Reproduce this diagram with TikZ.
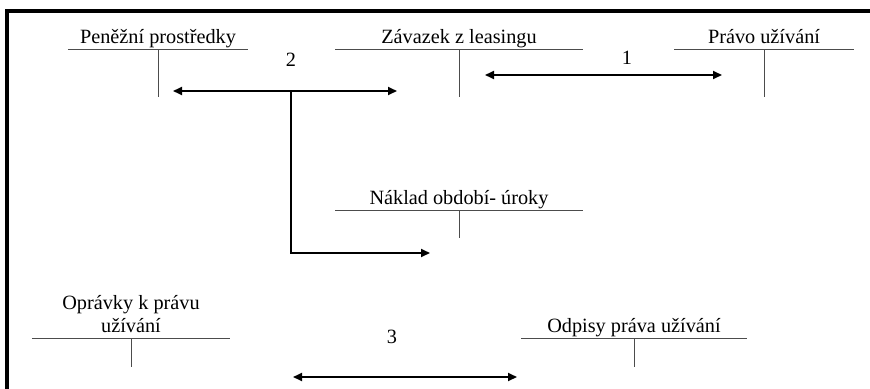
\documentclass[tikz,border=0pt]{standalone}
\usepackage{fontspec}
\setmainfont{Liberation Serif}
\usepackage{xcolor}
\usepackage{tikz}
\usetikzlibrary{positioning,arrows.meta,calc}
\tikzset{
  acct/.style={anchor=south, inner sep=0pt, text depth=0.17cm, align=center,
               font=\fontsize{17.3pt}{19.5pt}\selectfont},
  tline/.style={line width=0.75pt, black!70},
  num/.style={inner sep=0pt, font=\fontsize{17.3pt}{19.5pt}\selectfont},
  flow/.style={{Triangle[length=0.27cm,width=0.24cm]}-{Triangle[length=0.27cm,width=0.24cm]},
               line width=1.6pt},
  oneway/.style={-{Triangle[length=0.27cm,width=0.24cm]}, line width=1.6pt},
  branch/.style={line width=1.1pt},
  frame/.style={line width=2.6pt, line join=miter}
}

\begin{document}
\begin{tikzpicture}[x=0.03cm, y=-0.03cm]
\useasboundingbox (0,0) rectangle (870,388);
\draw[frame] (7,392) -- (7,11) -- (874,11);
\node[acct, minimum width=5.4cm] (pen) at (158,49) {Peněžní prostředky};
\node[acct, minimum width=7.41cm] (zav) at (459,49) {Závazek z leasingu};
\node[acct, minimum width=5.37cm] (pravo) at (764,49) {Právo užívání};
\node[acct, minimum width=7.41cm] (naklad) at (459,210) {Náklad období- úroky};
\node[acct, minimum width=5.94cm] (opr) at (131,338) {Oprávky k právu\\užívání};
\node[acct, minimum width=6.75cm] (odp) at (634,338) {Odpisy práva užívání};
\foreach \a/\h in {pen/48, zav/48, pravo/48, naklad/28, opr/29, odp/29} {
  \draw[tline] (\a.south west) -- (\a.south east);
  \draw[tline] (\a.south) -- ++(0,\h);
}
\node[num] (n1) at (627,58) {1};
\node[num] (n2) at (291,60) {2};
\node[num] (n3) at (392,337) {3};
\coordinate (a1s) at (485,75);
\coordinate (a1e) at (722,75);
\coordinate (a2s) at (173,91);
\coordinate (a2e) at (397,91);
\coordinate (a2m) at (291,91);
\coordinate (a2d) at (430,253);
\coordinate (a3s) at (293,377);
\coordinate (a3e) at (517,377);
\draw[flow] (a1s) -- (a1e);
\draw[flow] (a2s) -- (a2e);
\draw[oneway] (a2m) |- (a2d);
\draw[flow] (a3s) -- (a3e);
\end{tikzpicture}
\end{document}
